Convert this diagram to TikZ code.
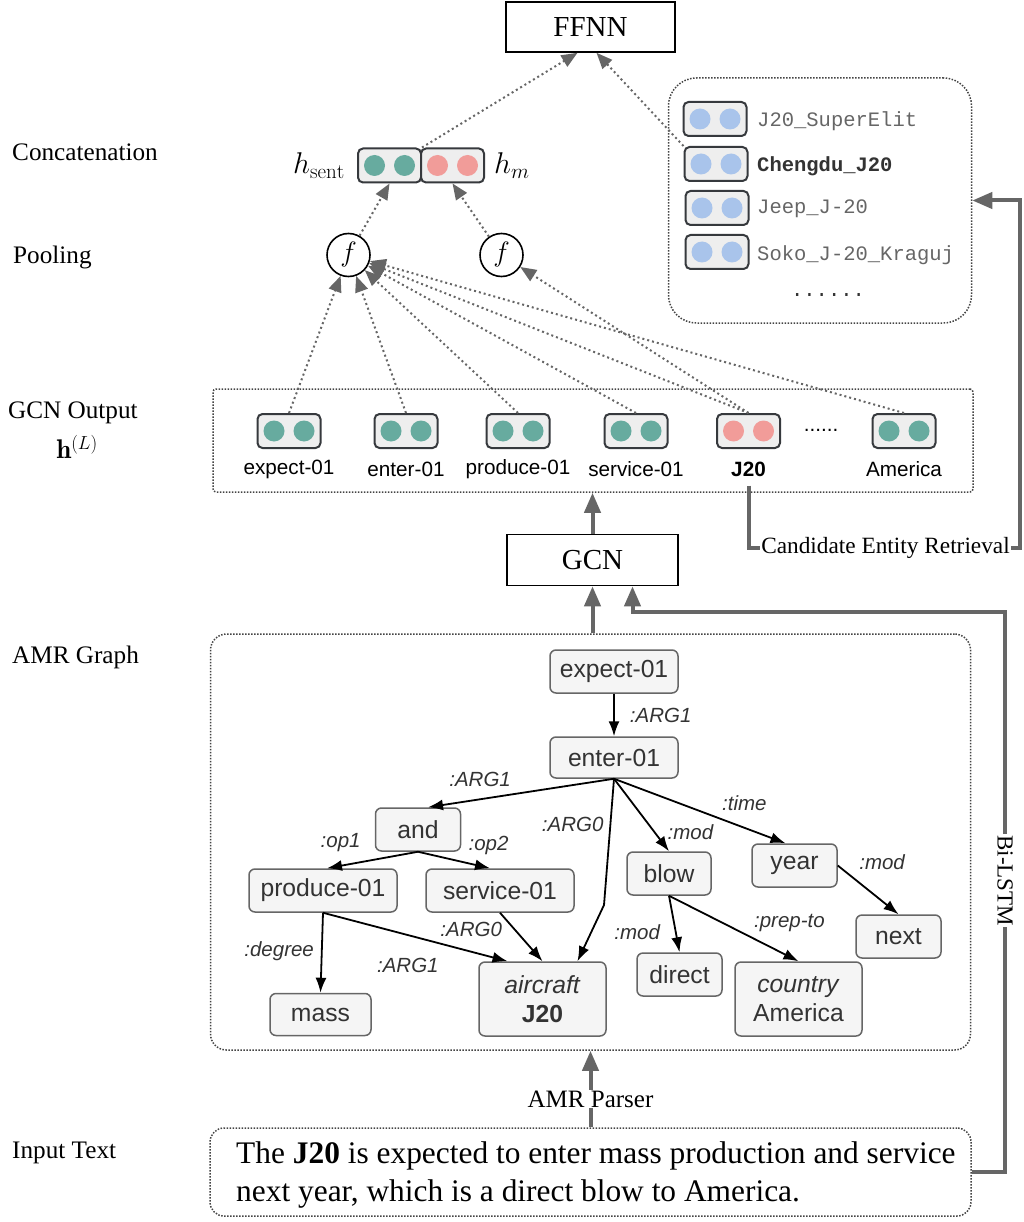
\RequirePackage{fix-cm}
\documentclass[tikz,border=0pt]{standalone}
\usepackage{amsmath}
\usepackage{fontspec}
\newfontfamily\tnr{Liberation Serif}
\newfontfamily\arial{Liberation Sans}
\newfontfamily\cour{Liberation Mono}
\usetikzlibrary{arrows.meta, positioning}

\definecolor{tealdot}{HTML}{67AB9F}
\definecolor{pinkdot}{HTML}{F19C99}
\definecolor{bluedot}{HTML}{A9C4EB}
\definecolor{vecfill}{HTML}{EEEEEE}
\definecolor{vecline}{HTML}{36393D}
\definecolor{amrfill}{HTML}{F5F5F5}
\definecolor{amrline}{HTML}{666666}
\definecolor{flow}{HTML}{666666}
\definecolor{dotline}{HTML}{444444}
\definecolor{labtext}{HTML}{333333}
\definecolor{candtext}{HTML}{666666}

\begin{document}
\begin{tikzpicture}[x=1pt, y=-1pt,
		blockbox/.style={draw, line width=1.6pt, fill=white, font=\tnr\fontsize{29}{34}\selectfont},
		side/.style={anchor=west, inner sep=0pt, font=\tnr\fontsize{25.2}{30}\selectfont},
		vec/.style={draw=vecline, fill=vecfill, line width=2pt, rounded corners=5pt, minimum width=63pt, minimum height=34pt, inner sep=0pt},
		pool/.style={draw, circle, line width=1.6pt, minimum size=43pt, inner sep=0pt, font=\fontsize{28}{30}\selectfont},
		region/.style={draw=dotline, line width=1.5pt, dash pattern=on 1.5pt off 1.5pt, inner sep=0pt},
		dotarrow/.style={draw=flow, line width=2pt, dash pattern=on 2pt off 3pt, -{Triangle[length=16pt, width=13pt]}},
		flowarrow/.style={draw=flow, line width=4pt, -{Triangle[length=20pt, width=16pt]}},
		flowline/.style={draw=flow, line width=4pt},
		amr/.style={draw=amrline, fill=amrfill, line width=1.5pt, rounded corners=6pt, minimum height=43pt, inner sep=0pt, align=center, text=labtext, font=\arial\fontsize{24.7}{29}\selectfont},
		amrlink/.style={line width=1.8pt, -{Latex[length=15pt, width=11pt]}},
		elab/.style={inner sep=0pt, text=labtext, font=\arial\itshape\fontsize{20.5}{24}\selectfont},
		outlab/.style={inner sep=0pt, font=\arial\fontsize{20.7}{24}\selectfont},
		candlab/.style={anchor=west, inner sep=0pt, text=candtext, font=\cour\fontsize{20.5}{24}\selectfont}]
	\useasboundingbox (0,0) rectangle (1023,1222);
	
	% top blocks
	\node[blockbox, minimum width=169pt, minimum height=50pt] (ffnn) at (590.5,27) {FFNN};
	\node[blockbox, minimum width=171pt, minimum height=51pt] (gcn) at (592.5,560) {GCN};
	
	% layer names
	\node[side] (lconcat) at (12,152) {Concatenation};
	\node[side] (lpool) at (13,257) {Pooling};
	\node[side] (lgout) at (8,413) {GCN Output};
	\node[inner sep=0pt, font=\fontsize{27}{32}\selectfont] (lhl) at (77,447) {$\mathbf{h}^{(L)}$};
	\node[side] (lamr) at (12,657) {AMR Graph};
	\node[side] (linput) at (12,1153) {Input Text};
	
	% concatenation and pooling
	\node[vec] (hs) at (389.5,165.5) {};
	\node[vec] (hm) at (452.5,165.5) {};
	\node[left=12pt of hs, inner sep=0pt, font=\fontsize{30}{34}\selectfont] (hslab) {$h_{\mathrm{sent}}$};
	\node[right=9pt of hm, inner sep=0pt, font=\fontsize{30}{34}\selectfont] (hmlab) {$h_m$};
	\node[pool] (f1) at (348.5,255) {$f$};
	\node[pool] (f2) at (501.5,255) {$f$};
	
	% candidate entities
	\node[region, rounded corners=28pt, minimum width=303pt, minimum height=245pt] (cand) at (820,200.5) {};
	\node[vec] (c1) at (715,119) {};
	\node[vec] (c2) at (716,164) {};
	\node[vec] (c3) at (717,208) {};
	\node[vec] (c4) at (717,252) {};
	\node[candlab] (t1) at (757,121) {J20\_SuperElit};
	\node[candlab, text=labtext, font=\cour\bfseries\fontsize{20.5}{24}\selectfont] (t2) at (757,166) {Chengdu\_J20};
	\node[candlab] (t3) at (757,209) {Jeep\_J-20};
	\node[candlab] (t4) at (757,255) {Soko\_J-20\_Kraguj};
	\node[inner sep=0pt, text=labtext, font=\cour\fontsize{20.5}{24}\selectfont] (cdots) at (828,295) {......};
	
	% GCN output
	\node[region, rounded corners=3pt, minimum width=760pt, minimum height=103pt] (gout) at (593,440.5) {};
	\node[vec] (vexp) at (289,431) {};
	\node[vec] (vent) at (406,431) {};
	\node[vec] (vpro) at (518,431) {};
	\node[vec] (vser) at (636,431) {};
	\node[vec] (vj) at (748.5,431) {};
	\node[vec] (vame) at (904,431) {};
	\node[outlab] (lexp) at (289,469) {expect-01};
	\node[outlab] (lent) at (406,469) {enter-01};
	\node[outlab] (lpro) at (518,469) {produce-01};
	\node[outlab] (lser) at (636,469) {service-01};
	\node[outlab] (lj) at (748.5,469) {\textbf{J20}};
	\node[outlab] (lame) at (904,469) {America};
	\node[outlab] (gdots) at (821,430) {......};
	
	\foreach \v/\c in {hs/tealdot, hm/pinkdot, vexp/tealdot, vent/tealdot, vpro/tealdot, vser/tealdot, vj/pinkdot, vame/tealdot, c1/bluedot, c2/bluedot, c3/bluedot, c4/bluedot} {
		\fill[\c] ([xshift=-15pt]\v.center) circle (10.5pt);
		\fill[\c] ([xshift=15pt]\v.center) circle (10.5pt);
	}
	
	% AMR graph
	\node[region, rounded corners=16pt, minimum width=760pt, minimum height=416pt] (amr) at (590.5,842) {};
	\node[amr, minimum width=128pt] (expect) at (614,671.5) {expect-01};
	\node[amr, minimum width=128pt, minimum height=41pt] (enter) at (614,757.5) {enter-01};
	\node[amr, minimum width=85pt] (and) at (418,829.5) {and};
	\node[amr, minimum width=148pt] (produce) at (323,890.5) {produce-01};
	\node[amr, minimum width=148pt] (service) at (500,890.5) {service-01};
	\node[amr, minimum width=101pt, minimum height=42pt] (mass) at (320.5,1014.5) {mass};
	\node[amr, minimum width=127pt, minimum height=74pt] (aircraft) at (542.5,999) {\textit{aircraft}\\\textbf{J20}};
	\node[amr, minimum width=84pt] (blow) at (669,873.5) {blow};
	\node[amr, minimum width=85pt] (year) at (794.5,865.5) {year};
	\node[amr, minimum width=85pt] (next) at (898.5,936.5) {next};
	\node[amr, minimum width=85pt] (direct) at (679.5,974.5) {direct};
	\node[amr, minimum width=127pt, minimum height=74pt] (country) at (798.5,999) {\textit{country}\\America};
	\coordinate (bend) at (604,905);
	
	\draw[amrlink] (expect.south) -- node[elab, right=15pt] (e1) {:ARG1} (enter.north);
	\draw[amrlink] (enter.south) -- node[elab, pos=0.72, above=12pt] (e2) {:ARG1} ([xshift=10pt]and.north);
	\draw[amrlink] (enter.south) -- node[elab, pos=0.36, left=6pt] (e3) {:ARG0} (bend) -- ([xshift=35pt]aircraft.north);
	\draw[amrlink] (enter.south) -- node[elab, pos=0.74, right=12pt] (e4) {:mod} (blow.north);
	\draw[amrlink] (enter.south) -- node[elab, pos=0.76, above=16pt] (e5) {:time} ([xshift=-9pt]year.north);
	\draw[amrlink] (and.south) -- node[elab, pos=0.85, above=13pt] (e6) {:op1} ([xshift=4pt]produce.north);
	\draw[amrlink] (and.south) -- node[elab, pos=0.98, above=12pt] (e7) {:op2} ([xshift=-10pt]service.north);
	\draw[amrlink] (produce.south) -- node[elab, pos=0.48, left=7pt] (e8) {:degree} (mass.north);
	\draw[amrlink] (produce.south) -- node[elab, pos=0.46, below=22pt] (e9) {:ARG1} ([xshift=-35pt]aircraft.north);
	\draw[amrlink] (service.south) -- node[elab, pos=0.35, left=12pt] (e10) {:ARG0} (aircraft.north);
	\draw[amrlink] (blow.south) -- node[elab, pos=0.65, left=15pt] (e11) {:mod} (direct.north);
	\draw[amrlink] (blow.south) -- node[elab, pos=0.93, above=24pt] (e12) {:prep-to} (country.north);
	\draw[amrlink] (year.east) -- node[elab, pos=0.73, above=30pt] (e13) {:mod} (next.north);
	
	% input text
	\node[region, rounded corners=14pt, minimum width=761pt, minimum height=88pt] (inp) at (590.5,1172) {};
	\node[anchor=west, inner sep=0pt, align=left, font=\tnr\fontsize{31.4}{38}\selectfont] (itext) at (236,1175) {The \textbf{J20} is expected to enter mass production and service\\next year, which is a direct blow to America.};
	
	% flow between layers
	\coordinate (lstmturn) at (1005,612);
	\coordinate (candturn) at (1020,200.5);
	\draw[flowarrow] (inp.north) -- node[pos=0.37, fill=white, inner sep=1pt, font=\tnr\fontsize{25}{30}\selectfont] (parser) {AMR Parser} (amr.south);
	\draw[flowarrow] (gcn.south |- amr.north) -- (gcn.south);
	\draw[flowarrow] (inp.east) -| node[pos=0.76, rotate=-90, fill=white, inner sep=1pt, font=\tnr\fontsize{23}{28}\selectfont] (bilstm) {Bi-LSTM} (lstmturn) -| ([xshift=40pt]gcn.south);
	\draw[flowarrow] (gcn.north) -- (gcn.north |- gout.south);
	\node[fill=white, inner sep=1pt, font=\tnr\fontsize{23.3}{28}\selectfont] (cer) at (885.5,548) {Candidate Entity Retrieval};
	\draw[flowline] ([yshift=-9pt]lj.south) |- (cer.west);
	\draw[flowarrow] (cer.east) -| (candturn) -- (cand.east);
	
	% pooling and scoring
	\foreach \v in {vexp, vent, vpro, vser, vj, vame}
		\draw[dotarrow] (\v.north) -- (f1);
	\draw[dotarrow] (vj.north) -- (f2);
	\draw[dotarrow] (f1) -- (hs.south);
	\draw[dotarrow] (f2) -- (hm.south);
	\draw[dotarrow] (hs.north east) -- ([xshift=-13pt]ffnn.south);
	\draw[dotarrow] (c2.north west) -- ([xshift=6pt]ffnn.south);
\end{tikzpicture}
\end{document}
